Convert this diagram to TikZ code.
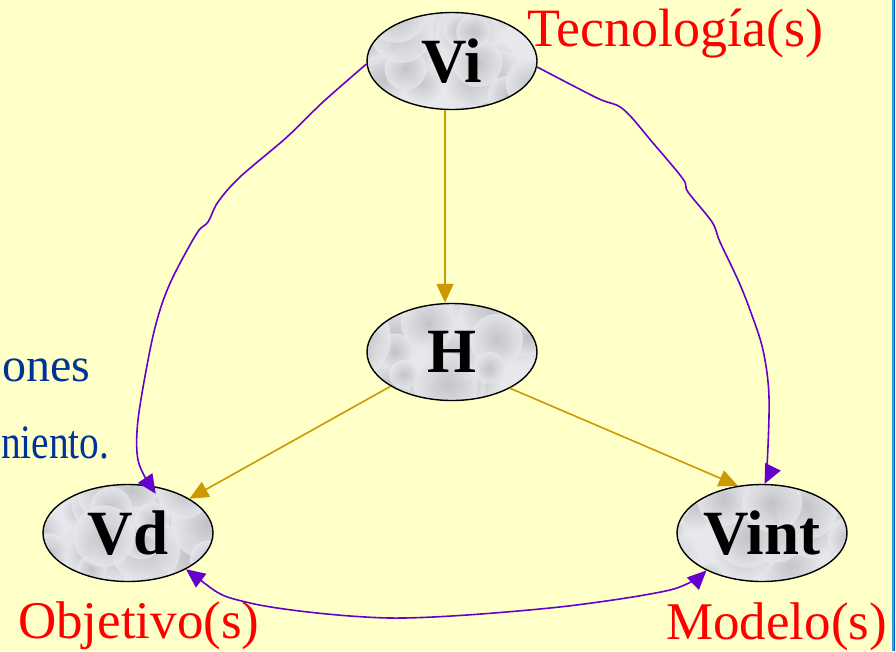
\documentclass[tikz,border=0pt]{standalone}
\usepackage{fontspec}
\setmainfont{Liberation Serif}
\usetikzlibrary{arrows.meta,calc,shapes.geometric}
\definecolor{bg}{RGB}{255,255,200}
\definecolor{gold}{RGB}{204,153,0}
\definecolor{purp}{RGB}{102,0,204}
\definecolor{txtblue}{RGB}{0,51,153}
\definecolor{marble}{RGB}{230,232,235}
\definecolor{spot}{RGB}{188,190,195}
\definecolor{edgecyan}{RGB}{30,165,220}
\definecolor{edgeblue}{RGB}{20,90,200}
\begin{document}
\begin{tikzpicture}[x=1pt,y=-1pt,
  vnode/.style={ellipse, draw=black, line width=1.4pt, fill=marble,
    minimum width=170pt, minimum height=97pt, inner sep=0pt,
    font=\bfseries\fontsize{63}{63}\selectfont,
    path picture={
      \foreach \k in {1,...,28}{
        \pgfmathsetmacro{\px}{rnd*190-95}
        \pgfmathsetmacro{\py}{rnd*110-55}
        \pgfmathsetmacro{\pr}{14+rnd*22}
        \shade[inner color=spot, outer color=marble, opacity=0.8]
          ($(path picture bounding box.center)+(\px,\py)$) circle (\pr pt);
      }
    }},
  tipstyle/.style={-{Triangle[length=19pt,width=17pt]}},
  goldarrow/.style={draw=gold, line width=1.6pt, tipstyle},
  purparrow/.style={draw=purp, line width=1.6pt, tipstyle},
  redlabel/.style={text=red, font=\fontsize{53}{53}\selectfont, inner sep=0pt, anchor=base west},
  bluelabel/.style={text=txtblue, font=\fontsize{48}{48}\selectfont, inner sep=0pt, anchor=base west}]
\pgfmathsetseed{11}
\useasboundingbox (0,0) rectangle (896,651);
\fill[bg] (0,0) rectangle (896,651);
\fill[edgecyan] (892,0) rectangle (894,651);
\fill[edgeblue] (894,0) rectangle (895,651);
\fill[white] (895,0) rectangle (896,651);

\node[bluelabel] (ones) at (2,381) {ones};
\node[bluelabel] (nie) at (1,458) {\scalebox{0.82}[1]{niento.}};

\node[vnode] (vi) at (452,61) {Vi};
\node[vnode] (h) at (452,352) {H};
\node[vnode] (vd) at (128,533) {Vd};
\node[vnode] (vint) at (762,533) {Vint};

\node[redlabel, font=\fontsize{54}{54}\selectfont] (tec) at (527,46) {Tecnología(s)};
\node[redlabel] (obj) at (18,638) {Objetivo(s)};
\node[redlabel] (mod) at (666,639) {Modelo(s)};

\coordinate (gx) at (445,0);
\draw[goldarrow] (vi.south -| gx) -- (h.north -| gx);
\draw[goldarrow] (h) -- (vd);
\draw[goldarrow] (h.328) -- (vint.117);

\draw[purparrow, shorten >=-10pt] plot[smooth, tension=0.55] coordinates {(vi.182) (323,102) (287,137) (240,177) (218,202) (208,222) (197,233) (173,277) (160,310) (150,350) (138,420) (138,460) (vd.65)};
\draw[purparrow] plot[smooth, tension=0.55] coordinates {(vi.356) (597,98) (623,109) (653,143) (683,179) (688,192) (712,222) (720,242) (738,280) (750,310) (763,350) (769,397) (767,467) (vint.87)};
\draw[purparrow, {Triangle[length=19pt,width=17pt]}-{Triangle[length=19pt,width=17pt]}] plot[smooth, tension=0.5] coordinates {(vd.-32) (250,603) (390,618) (550,608) (670,590) (vint.214)};
\end{tikzpicture}
\end{document}
